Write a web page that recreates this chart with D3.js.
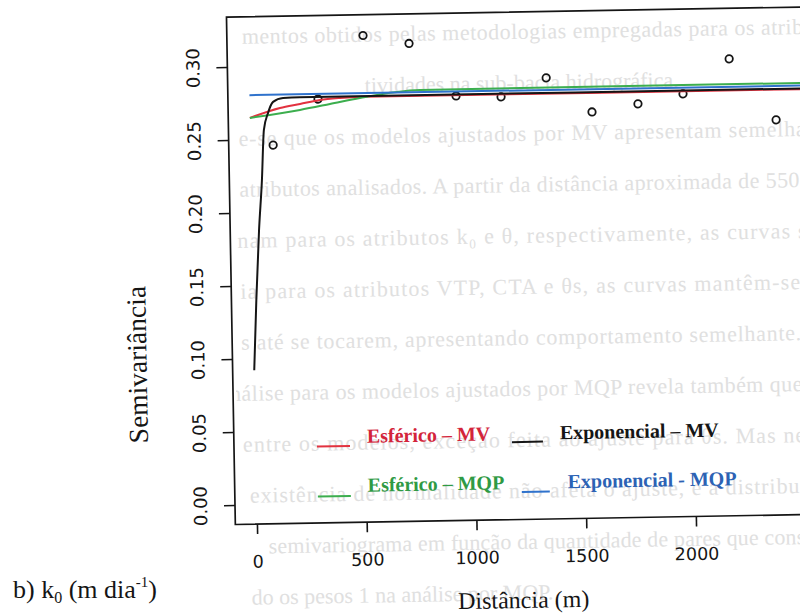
<!DOCTYPE html>
<html>
<head>
<meta charset="utf-8">
<script src="https://cdn.jsdelivr.net/npm/d3@7"></script>
<style>
  html, body { margin: 0; padding: 0; background: #fff; }
  svg { display: block; }
</style>
</head>
<body>
<svg id="chart" width="800" height="615"></svg>
<script>
// Experimental semivariogram of k0: lag distance (m) and semivariance
const lagDistance  = [104, 312, 522, 731, 941, 1146, 1353, 1559, 1769, 1975, 2188, 2397];
const semivariance = [0.246, 0.277, 0.320, 0.314, 0.2775, 0.2763, 0.2888, 0.2649, 0.2699, 0.2762, 0.2996, 0.2573];

// Fitted models as [distance, semivariance] pairs
const esfericoMV   = [[0, 0.2649], [138, 0.2714], [230, 0.2739], [321, 0.2764], [412, 0.2775], [520, 0.2780], [2700, 0.2780]];
const esfericoMQP  = [[0, 0.2649], [229, 0.2698], [366, 0.2735], [503, 0.2773], [777, 0.2820], [2700, 0.2823]];
const exponencialMV  = [[0, 0.092], [15, 0.140], [33, 0.188], [50, 0.222], [63, 0.2565], [83, 0.268], [107, 0.2756], [153, 0.2782], [230, 0.2785], [2700, 0.2785]];
const exponencialMQP = [[0, 0.2805], [2700, 0.2805]];

const xTicks = [0, 500, 1000, 1500, 2000];
const yTicks = [0.00, 0.05, 0.10, 0.15, 0.20, 0.25, 0.30];

const legendLabels = ["Esférico – MV", "Exponencial – MV", "Esférico – MQP", "Exponencial - MQP"];
const xTitle = "Distância (m)";
const yTitle = "Semivariância";

// Page text showing faintly behind the figure
const pageLines = [
  "mentos obtidos pelas metodologias empregadas para os atributos",
  "tividades na sub-bacia hidrográfica.",
  "e-se que os modelos ajustados por MV apresentam semelhança",
  "atributos analisados. A partir da distância aproximada de 550",
  "nam para os atributos k₀ e θ, respectivamente, as curvas se",
  "ia para os atributos VTP, CTA e θs, as curvas mantêm-se",
  "s até se tocarem, apresentando comportamento semelhante.",
  "nálise para os modelos ajustados por MQP revela também que há",
  "entre os modelos, exceção feita ao ajuste para θs. Mas nesta",
  "existência de normalidade não afeta o ajuste, e a distribuição",
  "semivariograma em função da quantidade de pares que constituem cada",
  "do os pesos 1 na análise por MQP."
];

const svg = d3.select("#chart");

const frame = { left: 235, right: 845, top: 17, bottom: 524.5 };
const x = d3.scaleLinear().domain([0, 2000]).range([256.6, 695.6]);
const y = d3.scaleLinear().domain([0, 0.30]).range([505, 67]);

const serif = "'Liberation Serif', 'Times New Roman', serif";
const sans = "'DejaVu Sans', sans-serif";

// the printed figure sits slightly tilted on the page
const page = svg.append("g").attr("transform", "rotate(-1, 235, 505)");

const defs = svg.append("defs");
defs.append("clipPath").attr("id", "pageClip")
  .append("rect").attr("x", 238).attr("y", 0).attr("width", 700).attr("height", 700);
defs.append("clipPath").attr("id", "plotClip")
  .append("rect")
  .attr("x", frame.left).attr("y", frame.top)
  .attr("width", frame.right - frame.left).attr("height", frame.bottom - frame.top);

// faint page text
const lineLayout = [
  { x: 250, len: 600 }, { x: 372, len: null }, { x: 245, len: 600 }, { x: 245, len: 560 },
  { x: 242, len: 580 }, { x: 244, len: 560 }, { x: 244, len: 560 }, { x: 232, len: 600 },
  { x: 244, len: 590 }, { x: 250, len: 590 }, { x: 268, len: 640 }, { x: 250, len: null }
];
const bg = page.append("g").attr("clip-path", "url(#pageClip)");
bg.selectAll("text").data(pageLines).join("text")
  .attr("x", (d, i) => lineLayout[i].x)
  .attr("y", (d, i) => 44 + i * 51)
  .attr("textLength", (d, i) => lineLayout[i].len)
  .attr("lengthAdjust", "spacing")
  .attr("font-family", serif)
  .attr("font-size", 22)
  .attr("fill", "#e0e0e0")
  .text(d => d);

const plot = page.append("g").attr("clip-path", "url(#plotClip)");

// experimental points
plot.selectAll("circle.pt").data(lagDistance).join("circle")
  .attr("class", "pt")
  .attr("cx", d => x(d))
  .attr("cy", (d, i) => y(semivariance[i]))
  .attr("r", 3.7)
  .attr("fill", "none")
  .attr("stroke", "#151515")
  .attr("stroke-width", 1.8);

// model curves
const line = d3.line().x(d => x(d[0])).y(d => y(d[1])).curve(d3.curveMonotoneX);
const models = [
  { data: esfericoMV, color: "#e2323f" },
  { data: esfericoMQP, color: "#3cae4e" },
  { data: exponencialMV, color: "#151515" },
  { data: exponencialMQP, color: "#2f72cc" }
];
plot.selectAll("path.model").data(models).join("path")
  .attr("class", "model")
  .attr("d", d => line(d.data))
  .attr("fill", "none")
  .attr("stroke", d => d.color)
  .attr("stroke-width", 2);

// frame
page.append("rect")
  .attr("x", frame.left).attr("y", frame.top)
  .attr("width", frame.right - frame.left).attr("height", frame.bottom - frame.top)
  .attr("fill", "none").attr("stroke", "#151515").attr("stroke-width", 1.7);

// y axis
const yAxis = page.append("g").attr("transform", `translate(${frame.left},0)`)
  .call(d3.axisLeft(y).tickValues(yTicks).tickSize(11).tickFormat(d3.format(".2f")));
yAxis.select(".domain").remove();
yAxis.selectAll(".tick line").attr("stroke", "#151515").attr("stroke-width", 1.6);
yAxis.selectAll(".tick text")
  .attr("x", null).attr("dy", null)
  .attr("transform", "translate(-28,0) rotate(-90)")
  .attr("text-anchor", "middle")
  .attr("font-family", sans).attr("font-size", 18).attr("fill", "#151515");

// x axis
const xAxis = page.append("g").attr("transform", `translate(0,${frame.bottom})`)
  .call(d3.axisBottom(x).tickValues(xTicks).tickSize(10).tickFormat(d3.format("d")));
xAxis.select(".domain").remove();
xAxis.selectAll(".tick line").attr("stroke", "#151515").attr("stroke-width", 1.6);
xAxis.selectAll(".tick text")
  .attr("y", 43.5).attr("dy", null)
  .attr("font-family", sans).attr("font-size", 17.5).attr("fill", "#151515");

// axis titles
page.append("text")
  .attr("x", 522).attr("y", 613)
  .attr("text-anchor", "middle")
  .attr("font-family", serif).attr("font-size", 24).attr("fill", "#151515")
  .text(xTitle);
page.append("text")
  .attr("transform", "translate(149,363) rotate(-90)")
  .attr("text-anchor", "middle")
  .attr("font-family", serif).attr("font-size", 27.5).attr("fill", "#151515")
  .text(yTitle);

// legend
const legendItems = [
  { label: legendLabels[0], color: "#e2323f", text: "#d3243a", seg: [318, 351], sy: 448, tx: 368, ty: 445 },
  { label: legendLabels[1], color: "#151515", text: "#151515", seg: [513, 544], sy: 447, tx: 561, ty: 445 },
  { label: legendLabels[2], color: "#3cae4e", text: "#2f9a44", seg: [318, 351], sy: 498, tx: 368, ty: 494 },
  { label: legendLabels[3], color: "#2f72cc", text: "#2c62b4", seg: [522, 550], sy: 497, tx: 568, ty: 494 }
];
const leg = page.append("g");
leg.selectAll("line").data(legendItems).join("line")
  .attr("x1", d => d.seg[0]).attr("x2", d => d.seg[1])
  .attr("y1", d => d.sy).attr("y2", d => d.sy)
  .attr("stroke", d => d.color).attr("stroke-width", 2);
leg.selectAll("text").data(legendItems).join("text")
  .attr("x", d => d.tx).attr("y", d => d.ty)
  .attr("font-family", serif).attr("font-size", 20).attr("font-weight", "bold")
  .attr("fill", d => d.text)
  .text(d => d.label);

// panel caption
const cap = svg.append("text")
  .attr("x", 13).attr("y", 598)
  .attr("font-family", serif).attr("font-size", 26).attr("fill", "#151515");
cap.append("tspan").text("b) k");
cap.append("tspan").attr("font-size", 16).attr("dy", 5).text("0");
cap.append("tspan").attr("dy", -5).text(" (m dia");
cap.append("tspan").attr("font-size", 15).attr("dy", -11).text("-1");
cap.append("tspan").attr("dy", 11).text(")");
</script>
</body>
</html>
